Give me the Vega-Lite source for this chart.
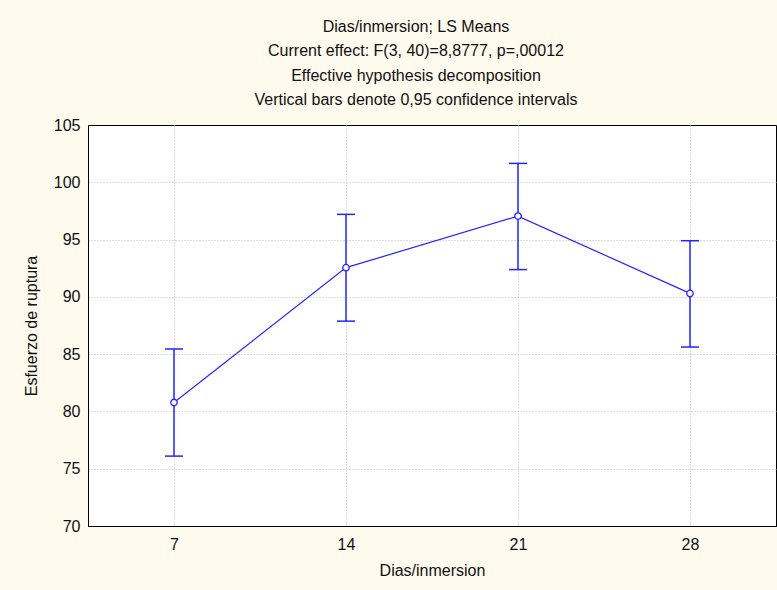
{
  "$schema": "https://vega.github.io/schema/vega-lite/v6.json",
  "width": 688,
  "height": 401,
  "autosize": {"type": "none"},
  "padding": {"left": 88, "top": 125, "right": 1, "bottom": 64},
  "background": "#fefaee",
  "title": {
    "text": ["Dias/inmersion; LS Means", "Current effect: F(3, 40)=8,8777, p=,00012", "Effective hypothesis decomposition", "Vertical bars denote 0,95 confidence intervals"],
    "anchor": "middle",
    "frame": "group",
    "dx": -16,
    "offset": 9,
    "font": "Liberation Sans",
    "fontSize": 16,
    "fontWeight": "normal",
    "color": "#111111",
    "lineHeight": 24.5
  },
  "config": {
    "view": {"fill": "white", "stroke": "#000000", "strokeWidth": 1},
    "axis": {
      "labelFont": "Liberation Sans",
      "titleFont": "Liberation Sans",
      "labelFontSize": 16,
      "titleFontSize": 16,
      "titleFontWeight": "normal",
      "labelColor": "#111111",
      "titleColor": "#111111",
      "domainColor": "#000000",
      "ticks": false,
      "gridColor": "#b8b8b8",
      "gridDash": [1, 2],
      "gridWidth": 1
    }
  },
  "data": {
    "values": [
      {"dias": 7, "mean": 80.78, "lo": 76.1, "hi": 85.45},
      {"dias": 14, "mean": 92.55, "lo": 87.88, "hi": 97.2},
      {"dias": 21, "mean": 97.05, "lo": 92.38, "hi": 101.65},
      {"dias": 28, "mean": 90.3, "lo": 85.62, "hi": 94.9}
    ]
  },
  "encoding": {
    "x": {
      "field": "dias",
      "type": "quantitative",
      "scale": {"domain": [3.5, 31.5], "nice": false, "zero": false},
      "axis": {"values": [7, 14, 21, 28], "title": "Dias/inmersion", "labelPadding": 10, "titlePadding": 10, "grid": true}
    }
  },
  "layer": [
    {
      "mark": {"type": "rule", "color": "#2424ff", "strokeWidth": 1.5},
      "encoding": {
        "y": {
          "field": "lo",
          "type": "quantitative",
          "scale": {"domain": [70, 105], "nice": false, "zero": false},
          "axis": {
            "values": [70, 75, 80, 85, 90, 95, 100, 105],
            "title": "Esfuerzo de ruptura",
            "labelPadding": 8,
            "titlePadding": 14,
            "grid": true,
            "gridOpacity": {"condition": {"test": "datum.value >= 105 || datum.value <= 70", "value": 0}, "value": 1}
          }
        },
        "y2": {"field": "hi"}
      }
    },
    {
      "mark": {"type": "tick", "orient": "horizontal", "color": "#2424ff", "size": 18, "thickness": 1.5, "opacity": 1},
      "encoding": {"y": {"field": "lo", "type": "quantitative"}}
    },
    {
      "mark": {"type": "tick", "orient": "horizontal", "color": "#2424ff", "size": 18, "thickness": 1.5, "opacity": 1},
      "encoding": {"y": {"field": "hi", "type": "quantitative"}}
    },
    {
      "mark": {"type": "line", "color": "#2424ff", "strokeWidth": 1.2},
      "encoding": {"y": {"field": "mean", "type": "quantitative"}}
    },
    {
      "mark": {"type": "point", "shape": "circle", "filled": true, "fill": "white", "stroke": "#2424ff", "strokeWidth": 1.3, "size": 42, "opacity": 1},
      "encoding": {"y": {"field": "mean", "type": "quantitative"}}
    }
  ]
}
